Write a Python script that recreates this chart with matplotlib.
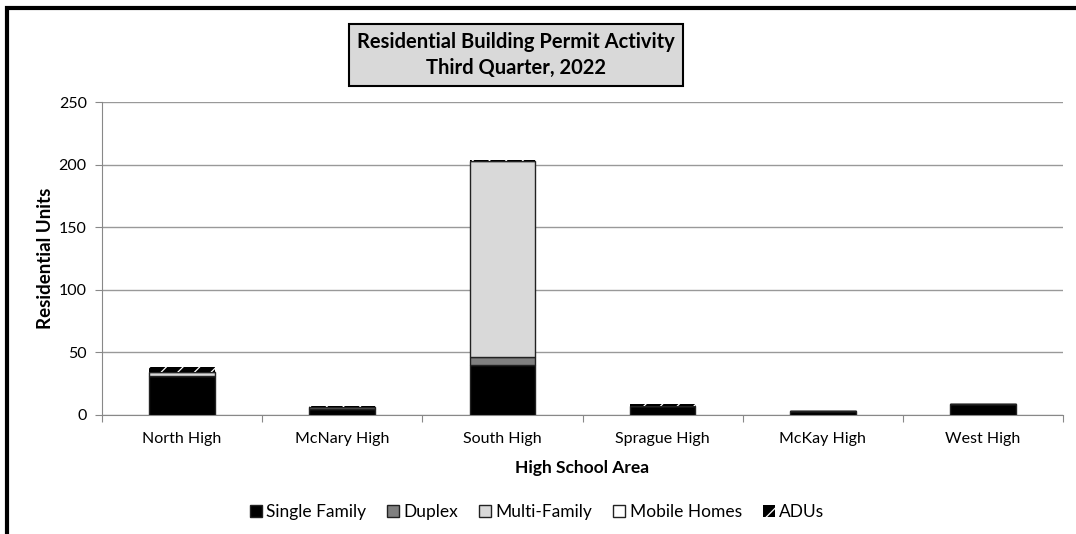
import numpy as np
import matplotlib
matplotlib.use('Agg')
import matplotlib.pyplot as plt
from matplotlib.patches import Rectangle

plt.rcParams['font.family'] = ['Lato', 'DejaVu Sans']
plt.rcParams['hatch.linewidth'] = 0.9

# data
areas = ['North High', 'McNary High', 'South High', 'Sprague High', 'McKay High', 'West High']
single_family = [31, 5, 40, 7, 3, 9]
duplex = [0, 1, 6, 0, 0, 0]
multi_family = [3, 0, 157, 0, 0, 0]
mobile_homes = [0, 0, 0, 0, 0, 0]
adus = [4, 1, 1, 2, 0, 0]

series = [
    ('Single Family', single_family, dict(facecolor='black', edgecolor='#222222')),
    ('Duplex', duplex, dict(facecolor='#808080', edgecolor='#222222')),
    ('Multi-Family', multi_family, dict(facecolor='#d9d9d9', edgecolor='#222222')),
    ('Mobile Homes', mobile_homes, dict(facecolor='white', edgecolor='#222222')),
    ('ADUs', adus, dict(facecolor='black', edgecolor='white', hatch='//')),
]

fig = plt.figure(figsize=(10.76, 5.34), dpi=100)
ax = fig.add_axes([102 / 1076, 1 - 415 / 534, (1063 - 102) / 1076, (415 - 102) / 534])

x = np.arange(len(areas))
bottom = np.zeros(len(areas))
handles = []
for name, vals, style in series:
    lw = 0 if 'hatch' in style else 1.0
    b = ax.bar(x, vals, width=0.41, bottom=bottom, linewidth=lw, label=name, zorder=3, **style)
    bottom += np.array(vals)
    handles.append(b)

ax.set_xlim(-0.5, len(areas) - 0.5)
ax.set_ylim(0, 250)
ax.set_yticks(range(0, 251, 50))
ax.set_xticks(np.arange(len(areas) + 1) - 0.5, minor=False)
ax.set_xticklabels([])
ax.set_xticks(x, minor=True)
ax.set_xticklabels(areas, minor=True, fontsize=11.5)
ax.tick_params(axis='x', which='minor', length=0, pad=12)
ax.tick_params(axis='x', which='major', length=5, color='#888888', direction='out')
ax.tick_params(axis='y', length=5, color='#888888', labelsize=11.5, pad=6)
ax.grid(axis='y', color='#999999', linewidth=1.0, zorder=0)
for s in ['top', 'right']:
    ax.spines[s].set_visible(False)
ax.spines['left'].set_color('#888888')
ax.spines['bottom'].set_color('#888888')

ax.set_xlabel('High School Area', fontsize=12.5, fontweight='bold', labelpad=10)
ax.set_ylabel('Residential Units', fontsize=13.5, fontweight='bold')
ax.yaxis.set_label_coords(-0.05, 0.5)

fig.text(516 / 1076, 1 - 55 / 534, 'Residential Building Permit Activity\nThird Quarter, 2022',
         ha='center', va='center', fontsize=14.5, fontweight='bold', linespacing=1.35,
         bbox=dict(boxstyle='square,pad=0.4', facecolor='#d9d9d9', edgecolor='black', linewidth=1.5))

fig.legend(handles, [h.get_label() for h in handles], loc='center', ncol=5,
           bbox_to_anchor=(537 / 1076, 1 - 512 / 534), frameon=False, fontsize=12.5,
           handlelength=0.7, handleheight=0.7, handletextpad=0.25, columnspacing=1.2)

# outer frame (top and left edges visible)
fig.add_artist(Rectangle((7 / 1076, -0.1), 1.2, 1 - 8 / 534 + 0.1, transform=fig.transFigure,
                         fill=False, edgecolor='black', linewidth=3))

fig.savefig('out.png', dpi=100)
